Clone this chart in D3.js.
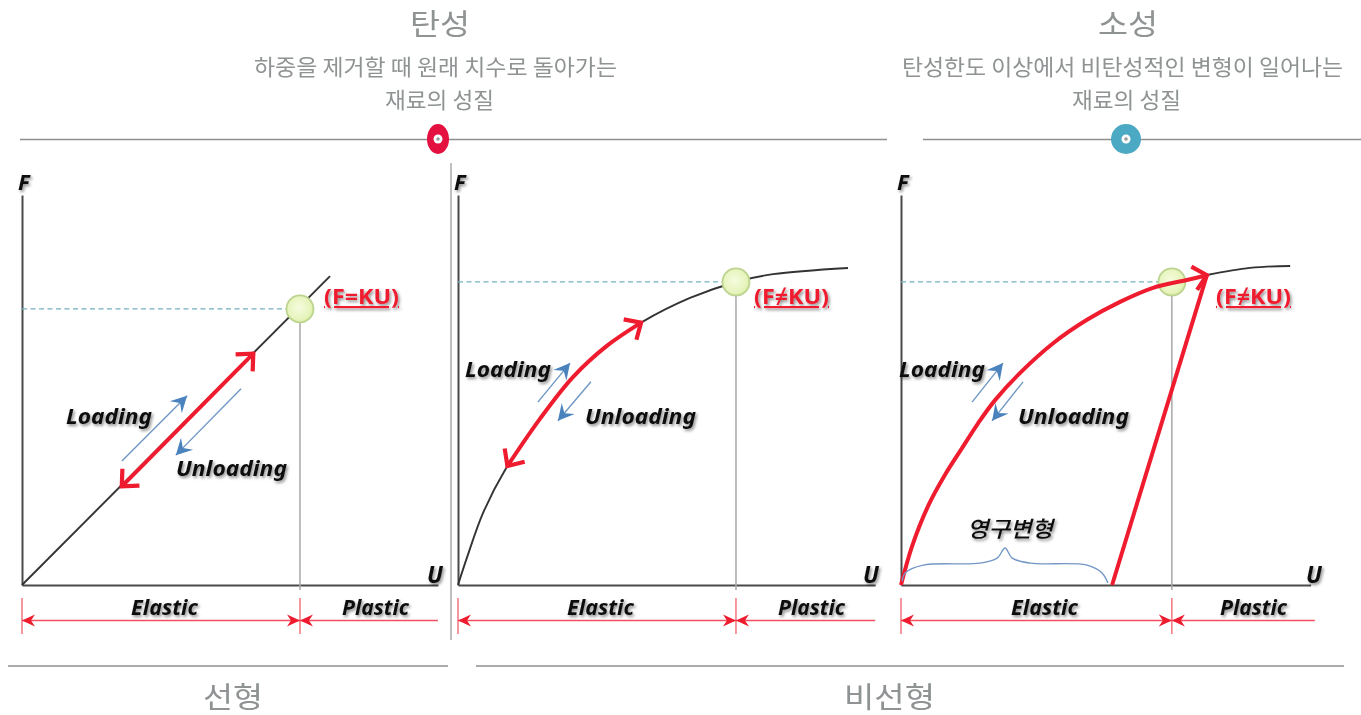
<!DOCTYPE html>
<html>
<head>
<meta charset="utf-8">
<script src="https://cdn.jsdelivr.net/npm/d3@7"></script>
<style>
html, body { margin: 0; padding: 0; background: #fff; overflow: hidden; }
svg { display: block; filter: blur(0.4px); }
.ko { font-family: "Noto Sans CJK KR", sans-serif; fill: #8f9393; text-anchor: start; }
.lab { font-family: "Noto Sans", sans-serif; font-weight: 700; font-style: italic; fill: #111; }
.eq { font-family: "Noto Sans", sans-serif; font-weight: 700; fill: #ee1c2e; text-decoration: underline; }
</style>
</head>
<body>
<script>
// chart values, U and F both on a 0-100 scale
var linearU = [0, 73.7];
var linearF = [0, 79.2];
var linearRedU = [23.7, 55.5];
var linearRedF = [25.1, 59.5];

var curve2U = [0, 2.2, 6, 11.7, 19.6, 27.5, 35.6, 44, 55.5, 66.5, 75.4, 93.3];
var curve2F = [0, 7.2, 18.5, 30.3, 42.6, 53.3, 61.3, 67.4, 73.6, 77.7, 79.7, 81.3];
var curve2RedU = [11.7, 19.6, 27.5, 35.6, 44];
var curve2RedF = [30.3, 42.6, 53.3, 61.3, 67.4];

var curve3U = [0, 2.6, 6.5, 10.5, 14.6, 18.4, 22.5, 28.5, 36.4, 44.5, 52.4, 60.3, 68.4, 73.4];
var curve3F = [0, 9.8, 20.3, 28.2, 35.1, 41.4, 47.4, 54.4, 62, 68, 72.6, 76.2, 78.2, 79.5];
var curve3TailU = [73.2, 83.5, 93.1];
var curve3TailF = [79.5, 81.3, 81.8];
var unloadU = [73.2, 50.5];
var unloadF = [79.5, 0];

var yieldU = [66.5, 66.5, 64.8];
var yieldF = [70.8, 77.7, 77.7];

var upU = [[23.9, 39.5], [19.1, 26.8], [17, 24.4]];
var upF = [[31.8, 48.5], [46.9, 56.9], [46.9, 56.9]];
var downU = [[52.4, 36.8], [31.8, 23.9], [29.2, 21.8]];
var downF = [[50.3, 33.3], [52.1, 42.1], [52.1, 42.1]];

var braceU = [0.3, 1, 5.3, 18.9, 23, 24.9, 26.6, 30.9, 44.5, 48.1, 49.5];
var braceF = [1, 3.1, 5.1, 5.6, 6.9, 9.5, 6.9, 5.6, 5.1, 3.1, 0.5];

var eqLabels = ["(F=KU)", "(F\u2260KU)", "(F\u2260KU)"];
var zoneLabels = ["Elastic", "Plastic"];
var topTitles = ["\ud0c4\uc131", "\uc18c\uc131"];
var topLines1 = ["\ud558\uc911\uc744 \uc81c\uac70\ud560 \ub54c \uc6d0\ub798 \uce58\uc218\ub85c \ub3cc\uc544\uac00\ub294", "\ud0c4\uc131\ud55c\ub3c4 \uc774\uc0c1\uc5d0\uc11c \ube44\ud0c4\uc131\uc801\uc778 \ubcc0\ud615\uc774 \uc77c\uc5b4\ub098\ub294"];
var topLines2 = ["\uc7ac\ub8cc\uc758 \uc131\uc9c8", "\uc7ac\ub8cc\uc758 \uc131\uc9c8"];
var bottomTitles = ["\uc120\ud615", "\ube44\uc120\ud615"];
var braceLabel = "\uc601\uad6c\ubcc0\ud615";

var W = 1361, H = 715;
var svg = d3.select("body").append("svg").attr("width", W).attr("height", H);
var defs = svg.append("defs");

// soft shadow behind the italic labels
var f = defs.append("filter").attr("id", "shadow").attr("x", "-20%").attr("y", "-30%").attr("width", "140%").attr("height", "170%");
f.append("feDropShadow").attr("dx", 1.5).attr("dy", 2).attr("stdDeviation", 1.7).attr("flood-color", "#000").attr("flood-opacity", 0.45);

var g1 = defs.append("radialGradient").attr("id", "knob").attr("cx", "45%").attr("cy", "45%").attr("r", "60%");
g1.append("stop").attr("offset", "0%").attr("stop-color", "#f6fbdf");
g1.append("stop").attr("offset", "75%").attr("stop-color", "#e6f4bb");
g1.append("stop").attr("offset", "100%").attr("stop-color", "#d3e99c");

function marker(id, w, h, refX, path, fill, stroke, sw) {
  defs.append("marker").attr("id", id).attr("markerUnits", "userSpaceOnUse")
    .attr("viewBox", "0 " + (-h / 2) + " " + w + " " + h)
    .attr("markerWidth", w).attr("markerHeight", h)
    .attr("refX", refX).attr("refY", 0).attr("orient", "auto-start-reverse")
    .append("path").attr("d", path).attr("fill", fill).attr("stroke", stroke).attr("stroke-width", sw);
}
marker("redHead", 20, 30, 17, "M3,-12L16,0L3,12", "none", "#ee1c2e", 4.2);
marker("blueHead", 18, 20, 16, "M0,-8.5L16,0L0,8.5L6,0Z", "#4a82bd", "none", 0);
marker("dimHead", 14, 14, 13, "M0,-6L13,0L0,6L4,0Z", "#ee1c2e", "none", 0);

var y = d3.scaleLinear().domain([0, 100]).range([585, 195]);
var panelX0 = [22, 458, 901];
var axisEnd = [99.5, 99.8, 98];   // how far the U axis runs
var dimEnd = [99.5, 99.8, 99];

function series(us, fs) { return us.map(function (u, i) { return [u, fs[i]]; }); }

panelX0.forEach(function (x0, p) {
  var x = d3.scaleLinear().domain([0, 100]).range([x0, x0 + 418]);
  var g = svg.append("g");
  var line = d3.line().x(function (d) { return x(d[0]); }).y(function (d) { return y(d[1]); });
  var smooth = d3.line().x(function (d) { return x(d[0]); }).y(function (d) { return y(d[1]); }).curve(d3.curveCatmullRom);

  // axes with no ticks
  g.append("g").attr("transform", "translate(0,585)")
    .call(d3.axisBottom(d3.scaleLinear().domain([0, axisEnd[p]]).range([x0, x(axisEnd[p])])).tickValues([]).tickSizeOuter(0));
  g.append("g").attr("transform", "translate(" + x0 + ",0)")
    .call(d3.axisLeft(y).tickValues([]).tickSizeOuter(0));
  g.selectAll(".domain").attr("stroke", "#4a4a4a").attr("stroke-width", 2);

  // yield guides
  g.append("line").attr("x1", x0).attr("x2", x(yieldU[p]))
    .attr("y1", y(yieldF[p])).attr("y2", y(yieldF[p]))
    .attr("stroke", "#72b2c0").attr("stroke-width", 1.3).attr("stroke-dasharray", "5,3.5");
  g.append("line").attr("x1", x(yieldU[p])).attr("x2", x(yieldU[p]))
    .attr("y1", y(yieldF[p])).attr("y2", 590)
    .attr("stroke", "#a8a8a8").attr("stroke-width", 1.5);

  // black response line
  if (p === 0) {
    g.append("path").attr("d", line(series(linearU, linearF))).attr("fill", "none").attr("stroke", "#333").attr("stroke-width", 1.9);
  } else if (p === 1) {
    g.append("path").attr("d", smooth(series(curve2U, curve2F))).attr("fill", "none").attr("stroke", "#333").attr("stroke-width", 1.9);
  } else {
    g.append("path").attr("d", smooth(series(curve3TailU, curve3TailF))).attr("fill", "none").attr("stroke", "#333").attr("stroke-width", 1.9);
  }

  // yield point
  g.append("circle").attr("cx", x(yieldU[p])).attr("cy", y(yieldF[p])).attr("r", 13.5)
    .attr("fill", "url(#knob)").attr("stroke", "#bcd48f").attr("stroke-width", 1.8);

  // red load path
  function red(sel) {
    return sel.attr("fill", "none").attr("stroke", "#ee1c2e").attr("stroke-width", 4);
  }
  if (p === 0) {
    red(g.append("path").attr("d", line(series(linearRedU, linearRedF))))
      .attr("marker-start", "url(#redHead)").attr("marker-end", "url(#redHead)");
  } else if (p === 1) {
    red(g.append("path").attr("d", smooth(series(curve2RedU, curve2RedF))))
      .attr("marker-start", "url(#redHead)").attr("marker-end", "url(#redHead)");
  } else {
    red(g.append("path").attr("d", smooth(series(curve3U, curve3F)))).attr("marker-end", "url(#redHead)");
    red(g.append("path").attr("d", line(series(unloadU, unloadF))));
    g.append("path").attr("d", smooth(series(braceU, braceF)))
      .attr("fill", "none").attr("stroke", "#7497c6").attr("stroke-width", 1.4);
    g.append("text").attr("class", "lab").attr("x", 967).attr("y", 537)
      .attr("font-size", 22).attr("textLength", 86).attr("lengthAdjust", "spacingAndGlyphs")
      .attr("filter", "url(#shadow)").style("font-family", '"Noto Sans CJK KR", sans-serif').style("font-weight", 500)
      .text(braceLabel);
  }

  // thin blue direction arrows
  [[upU, upF], [downU, downF]].forEach(function (pair) {
    g.append("path").attr("d", line(series(pair[0][p], pair[1][p])))
      .attr("fill", "none").attr("stroke", "#6f97c4").attr("stroke-width", 1.4).attr("marker-end", "url(#blueHead)");
  });

  // zone dimension lines
  var yld = x(yieldU[p]);
  [x0, yld].forEach(function (vx) {
    g.append("line").attr("x1", vx).attr("x2", vx).attr("y1", 598).attr("y2", 634)
      .attr("stroke", "#f0606c").attr("stroke-width", 1.3);
  });
  [[x0, yld, true], [yld, x(dimEnd[p]), false]].forEach(function (s) {
    var l = g.append("line").attr("x1", s[0]).attr("x2", s[1]).attr("y1", 620.5).attr("y2", 620.5)
      .attr("stroke", "#f2505e").attr("stroke-width", 1.6)
      .attr("marker-start", "url(#dimHead)");
    if (s[2]) l.attr("marker-end", "url(#dimHead)");
  });

  // italic labels
  function lab(txt, px, py, size, len) {
    var t = g.append("text").attr("class", "lab").attr("x", px).attr("y", py)
      .attr("font-size", size).attr("filter", "url(#shadow)").text(txt);
    if (len) t.attr("textLength", len).attr("lengthAdjust", "spacingAndGlyphs");
    return t;
  }
  var elasticX = [131, 567, 1011];
  var plasticX = [342, 778, 1220];
  lab("F", x0 - 4, 190, 22);
  lab("U", x0 + 405, 583, 23);
  lab(zoneLabels[0], elasticX[p], 615, 22, 67);
  lab(zoneLabels[1], plasticX[p], 615, 22, 67);

  var loadPos = [[66, 424], [465, 377], [899, 377]];
  var unloadPos = [[176, 476], [585, 424], [1018, 424]];
  lab("Loading", loadPos[p][0], loadPos[p][1], 22, 86);
  lab("Unloading", unloadPos[p][0], unloadPos[p][1], 22, 111);

  var eqX = [324, 754, 1216];
  g.append("text").attr("class", "eq").attr("x", eqX[p]).attr("y", 304)
    .attr("font-size", 21).attr("textLength", 75).attr("lengthAdjust", "spacingAndGlyphs")
    .attr("filter", "url(#shadow)").text(eqLabels[p]);
});

// section rules
var rules = [[20, 887, 139.5], [923, 1361, 139.5], [8, 448, 666], [476, 1344, 666]];
svg.selectAll(".rule").data(rules).enter().append("line")
  .attr("x1", function (d) { return d[0]; }).attr("x2", function (d) { return d[1]; })
  .attr("y1", function (d) { return d[2]; }).attr("y2", function (d) { return d[2]; })
  .attr("stroke", "#8f8f8f").attr("stroke-width", 1.7);
svg.append("line").attr("x1", 451).attr("x2", 451).attr("y1", 163).attr("y2", 640).attr("stroke", "#aaa").attr("stroke-width", 1.5);

// section badges
var badges = [[438, "#e4103f", 11, 15], [1126, "#4ba9c4", 15, 15]];
badges.forEach(function (b) {
  svg.append("ellipse").attr("cx", b[0]).attr("cy", 139).attr("rx", b[2]).attr("ry", b[3]).attr("fill", b[1]);
  svg.append("ellipse").attr("cx", b[0]).attr("cy", 139).attr("rx", 4.5).attr("ry", 4.5).attr("fill", "#fff");
  svg.append("ellipse").attr("cx", b[0]).attr("cy", 139).attr("rx", 1.8).attr("ry", 1.8).attr("fill", "#999");
});

// korean headings
function ko(txt, x0, base, size, len) {
  svg.append("text").attr("class", "ko").attr("x", x0).attr("y", base).attr("font-size", size)
    .attr("textLength", len).attr("lengthAdjust", "spacingAndGlyphs").text(txt);
}
ko(topTitles[0], 410, 35, 29, 60);
ko(topTitles[1], 1098, 35, 29, 60);
ko(topLines1[0], 254, 75, 22, 363);
ko(topLines1[1], 902, 75, 22, 441);
ko(topLines2[0], 385, 108, 22, 109);
ko(topLines2[1], 1072, 108, 22, 109);
ko(bottomTitles[0], 203, 708, 29, 60);
ko(bottomTitles[1], 844, 708, 29, 91);
</script>
</body>
</html>
